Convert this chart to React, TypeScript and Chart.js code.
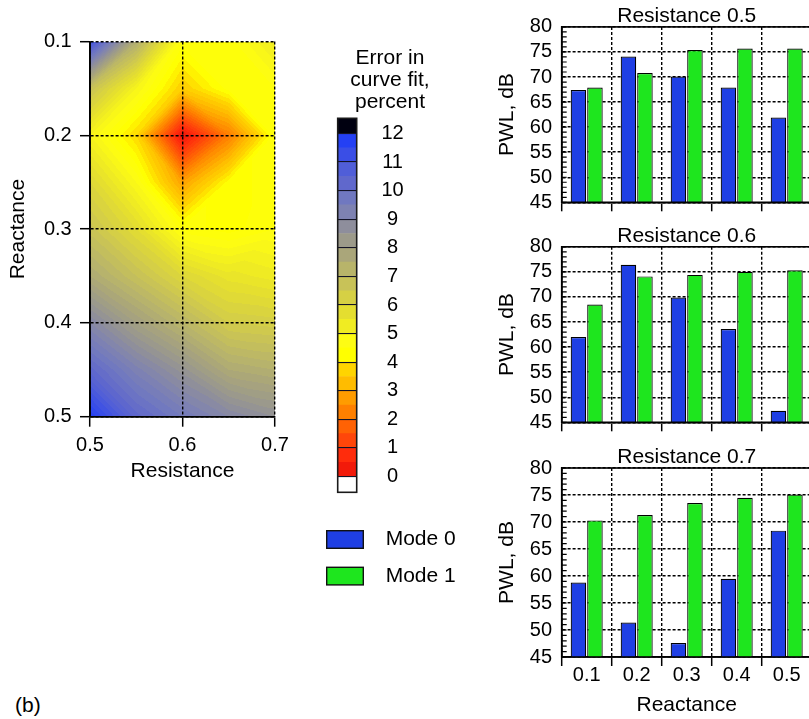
import React, { useEffect, useRef } from "react";
import { Chart, registerables } from "chart.js";

Chart.register(...registerables);

const FONT = "'Liberation Sans', Arial, Helvetica, sans-serif";

// ---------- Contour: error in curve fit, percent ----------
const resistanceNodes = [0.5, 0.55, 0.6, 0.65, 0.7];
const reactanceNodes = [0.1, 0.15, 0.2, 0.25, 0.3, 0.35, 0.4, 0.45, 0.5];
// one list per resistance node, values along reactance nodes
const errAtRes050 = [11.2, 6.8, 5.0, 6.0, 6.7, 7.6, 9.0, 10.3, 11.8];
const errAtRes055 = [7.5, 5.0, 3.8, 4.8, 5.8, 6.8, 8.0, 9.3, 10.3];
const errAtRes060 = [4.5, 3.6, 0.1, 2.8, 4.5, 6.0, 7.2, 8.5, 9.6];
const errAtRes065 = [4.5, 4.5, 2.2, 4.3, 4.3, 5.5, 6.4, 7.6, 9.0];
const errAtRes070 = [5.3, 4.6, 4.5, 4.5, 4.6, 5.3, 6.3, 7.4, 8.6];
const resistanceTicks = [0.5, 0.6, 0.7];
const reactanceTicks = [0.1, 0.2, 0.3, 0.4, 0.5];

// ---------- Colour scale ----------
const colorbarTicks = [0, 1, 2, 3, 4, 5, 6, 7, 8, 9, 10, 11, 12];
const colorbarMin = -0.55;
const colorbarMax = 12.53;
const halfBandColors = [
  "#f21a0a", "#ff2c0c", "#ff460a", "#ff6204", "#ff8000", "#ff9c00",
  "#ffbc00", "#ffd400", "#ffff00", "#fdfc14", "#f0ec22", "#e4de30",
  "#d6d044", "#c8c258", "#b8b46a", "#aaa67a", "#9c9a8a", "#8e8e9c",
  "#7e82b2", "#7078c0", "#6068cc", "#505ed8", "#3a4ee6", "#2440f4",
];
const belowColor = "#ffffff";
const aboveColor = "#000010";
const colorbarTitle = ["Error in", "curve fit,", "percent"];

// ---------- Bars: PWL, dB ----------
const reactanceCategories = ["0.1", "0.2", "0.3", "0.4", "0.5"];
const seriesNames = ["Mode 0", "Mode 1"];
const seriesColors = ["#1f3fe4", "#1ee61e"];
const panelTitles = ["Resistance 0.5", "Resistance 0.6", "Resistance 0.7"];
const mode0Res05 = [67.4, 74.1, 70.1, 67.9, 61.9];
const mode1Res05 = [67.9, 70.8, 75.4, 75.7, 75.7];
const mode0Res06 = [62.0, 76.4, 69.9, 63.6, 47.3];
const mode1Res06 = [68.5, 74.1, 74.4, 75.0, 75.3];
const mode0Res07 = [58.8, 51.4, 47.6, 59.5, 68.4];
const mode1Res07 = [70.3, 71.3, 73.5, 74.5, 75.1];
const pwlTicks = [45, 50, 55, 60, 65, 70, 75, 80];
const figureTag = "(b)";

// ---------- helpers ----------
const errGrid = [errAtRes050, errAtRes055, errAtRes060, errAtRes065, errAtRes070];

function hexToRgb(h: string): number[] {
  const n = parseInt(h.slice(1), 16);
  return [(n >> 16) & 255, (n >> 8) & 255, n & 255];
}
const halfBandRgb = halfBandColors.map(hexToRgb);

function colorForError(v: number): number[] {
  if (v < 0) return hexToRgb(belowColor);
  if (v >= 12) return hexToRgb(aboveColor);
  const q = Math.floor(v * 5) / 5 + 0.1;
  const t = q * 2 - 0.5;
  if (t <= 0) return halfBandRgb[0];
  if (t >= halfBandRgb.length - 1) return halfBandRgb[halfBandRgb.length - 1];
  const k = Math.floor(t);
  const f = t - k;
  const a = halfBandRgb[k];
  const b = halfBandRgb[k + 1];
  return [a[0] + (b[0] - a[0]) * f, a[1] + (b[1] - a[1]) * f, a[2] + (b[2] - a[2]) * f];
}

function findCell(nodes: number[], val: number) {
  let i = 0;
  while (i < nodes.length - 2 && val > nodes[i + 1]) i++;
  let u = (val - nodes[i]) / (nodes[i + 1] - nodes[i]);
  u = Math.max(0, Math.min(1, u));
  return { i, u };
}

function errorAt(r: number, x: number): number {
  const { i, u } = findCell(resistanceNodes, r);
  const { i: j, u: v } = findCell(reactanceNodes, x);
  const a = errGrid[i][j];
  const b = errGrid[i + 1][j];
  const c = errGrid[i][j + 1];
  const d = errGrid[i + 1][j + 1];
  if (Math.abs(a - d) <= Math.abs(b - c)) {
    if (u >= v) return a + u * (b - a) + v * (d - b);
    return a + v * (c - a) + u * (d - c);
  }
  if (u + v <= 1) return a + u * (b - a) + v * (c - a);
  return d + (1 - u) * (c - d) + (1 - v) * (b - d);
}

const contourFillPlugin = {
  id: "contourFill",
  beforeDraw(chart: any) {
    const { ctx, chartArea: a, scales } = chart;
    const xs = scales.x;
    const ys = scales.y;
    const left = Math.round(a.left);
    const top = Math.round(a.top);
    const w = Math.round(a.right) - left;
    const h = Math.round(a.bottom) - top;
    const img = ctx.createImageData(w, h);
    for (let py = 0; py < h; py++) {
      const xv = ys.getValueForPixel(top + py + 0.5);
      for (let px = 0; px < w; px++) {
        const rv = xs.getValueForPixel(left + px + 0.5);
        const c = colorForError(errorAt(rv, xv));
        const o = (py * w + px) * 4;
        img.data[o] = c[0];
        img.data[o + 1] = c[1];
        img.data[o + 2] = c[2];
        img.data[o + 3] = 255;
      }
    }
    ctx.putImageData(img, left, top);
  },
  afterDraw(chart: any) {
    const { ctx, chartArea: a } = chart;
    ctx.save();
    ctx.setLineDash([]);
    ctx.strokeStyle = "#000";
    ctx.lineWidth = 1.6;
    ctx.beginPath();
    ctx.moveTo(a.left, a.top);
    ctx.lineTo(a.left, a.bottom);
    ctx.lineTo(a.right, a.bottom);
    ctx.stroke();
    ctx.restore();
  },
};

function makeContourConfig(): any {
  const pts: { x: number; y: number }[] = [];
  resistanceNodes.forEach((r) => reactanceNodes.forEach((x) => pts.push({ x: r, y: x })));
  const dash = [3, 2];
  return {
    type: "scatter",
    data: { datasets: [{ data: pts, pointRadius: 0, showLine: false }] },
    plugins: [contourFillPlugin],
    options: {
      responsive: false,
      animation: false,
      devicePixelRatio: 1,
      layout: { padding: { left: 0, right: 25, top: 41.5, bottom: 15.9 } },
      plugins: { legend: { display: false }, tooltip: { enabled: false } },
      scales: {
        x: {
          type: "linear",
          min: 0.5,
          max: 0.7,
          afterBuildTicks: (s: any) => { s.ticks = resistanceTicks.map((value) => ({ value })); },
          afterFit: (s: any) => { s.height = 67.4; },
          grid: { color: "#000", lineWidth: 1.4, borderDash: dash, tickBorderDash: [], tickLength: 10, tickWidth: 1.5, tickColor: "#000" },
          border: { color: "#000", width: 1.6, dash },
          ticks: { font: { family: FONT, size: 20, lineHeight: 1 }, color: "#000", padding: 8.3, callback: (v: any) => Number(v).toFixed(1) },
          title: { display: true, text: "Resistance", font: { family: FONT, size: 21 }, color: "#000", padding: { top: 0, bottom: 0 } },
        },
        y: {
          type: "linear",
          reverse: true,
          min: 0.1,
          max: 0.5,
          afterBuildTicks: (s: any) => { s.ticks = reactanceTicks.map((value) => ({ value })); },
          afterFit: (s: any) => { s.width = 90; },
          grid: { color: "#000", lineWidth: 1.4, borderDash: dash, tickBorderDash: [], tickLength: 10, tickWidth: 1.5, tickColor: "#000" },
          border: { color: "#000", width: 1.6, dash },
          ticks: { font: { family: FONT, size: 20 }, color: "#000", padding: 8.3, callback: (v: any) => Number(v).toFixed(1) },
          title: { display: true, text: "Reactance", font: { family: FONT, size: 21 }, color: "#000", padding: { top: 5.4, bottom: 0 } },
        },
      },
    },
  };
}

function makeColorbarConfig(): any {
  const datasets: any[] = [
    { data: [[colorbarMin, colorbarTicks[0]]], backgroundColor: belowColor },
  ];
  halfBandColors.forEach((c, k) => {
    datasets.push({ data: [[k / 2, (k + 1) / 2]], backgroundColor: c });
  });
  datasets.push({ data: [[colorbarTicks[colorbarTicks.length - 1], colorbarMax]], backgroundColor: aboveColor });
  datasets.forEach((d) => {
    d.borderWidth = 0;
    d.grouped = false;
    d.categoryPercentage = 1;
    d.barPercentage = 1;
  });
  const decor = {
    id: "colorbarDecor",
    afterDraw(chart: any) {
      const { ctx, chartArea: a } = chart;
      ctx.save();
      ctx.setLineDash([]);
      ctx.strokeStyle = "#1a1a1a";
      ctx.lineWidth = 1.6;
      ctx.strokeRect(a.left, a.top, a.right - a.left, a.bottom - a.top);
      ctx.fillStyle = "#000";
      ctx.font = `21px ${FONT}`;
      ctx.textAlign = "center";
      ctx.textBaseline = "alphabetic";
      const base = [63.5, 85.5, 107.5];
      colorbarTitle.forEach((t, i) => ctx.fillText(t, 90, base[i]));
      // legend
      const boxY = [530.7, 567.3];
      seriesNames.forEach((name, i) => {
        ctx.fillStyle = seriesColors[i];
        ctx.fillRect(26.7, boxY[i], 36.6, 17.6);
        ctx.strokeStyle = "#111";
        ctx.lineWidth = 1.4;
        ctx.strokeRect(26.7, boxY[i], 36.6, 17.6);
        ctx.fillStyle = "#000";
        ctx.textAlign = "left";
        ctx.textBaseline = "middle";
        ctx.fillText(name, 85.7, boxY[i] + 8.8);
      });
      ctx.restore();
    },
  };
  return {
    type: "bar",
    data: { labels: [""], datasets },
    plugins: [decor],
    options: {
      responsive: false,
      animation: false,
      devicePixelRatio: 1,
      layout: { padding: { left: 37.7, right: 0, top: 118.3, bottom: 107.7 } },
      plugins: { legend: { display: false }, tooltip: { enabled: false } },
      scales: {
        x: { display: false },
        y: {
          position: "right",
          min: colorbarMin,
          max: colorbarMax,
          afterBuildTicks: (s: any) => { s.ticks = colorbarTicks.map((value) => ({ value })); },
          afterFit: (s: any) => { s.width = 123.3; },
          grid: { color: "#141428", lineWidth: 1.1, drawTicks: false, z: 1 },
          border: { display: false },
          ticks: { font: { family: FONT, size: 20 }, color: "#000", padding: 24.7, crossAlign: "center" },
        },
      },
    },
  };
}

function makeBarConfig(p: { title: string; mode0: number[]; mode1: number[]; showX: boolean; padTop: number; xHeight: number }): any {
  const dash = [3, 2];
  const decor = {
    id: "panelDecor",
    afterDraw(chart: any) {
      const { ctx, chartArea: a } = chart;
      const ys = chart.scales.y;
      ctx.save();
      ctx.setLineDash([]);
      ctx.strokeStyle = "#000";
      ctx.lineWidth = 1.6;
      ctx.strokeRect(a.left, a.top, a.right - a.left, a.bottom - a.top);
      ctx.lineWidth = 1.2;
      ctx.beginPath();
      for (let v = ys.min; v <= ys.max; v += 1) {
        const py = ys.getPixelForValue(v);
        ctx.moveTo(a.left, py);
        ctx.lineTo(a.left + 5, py);
      }
      ctx.stroke();
      ctx.fillStyle = "#000";
      ctx.font = `21px ${FONT}`;
      ctx.textAlign = "center";
      ctx.textBaseline = "alphabetic";
      ctx.fillText(p.title, (a.left + a.right) / 2, a.top - 5);
      ctx.restore();
    },
  };
  return {
    type: "bar",
    data: {
      labels: reactanceCategories,
      datasets: [
        { label: seriesNames[0], data: p.mode0, backgroundColor: seriesColors[0] },
        { label: seriesNames[1], data: p.mode1, backgroundColor: seriesColors[1] },
      ].map((d) => ({ ...d, borderColor: "#000", borderWidth: 1.2, borderSkipped: false, categoryPercentage: 0.66, barPercentage: 0.94 })),
    },
    plugins: [decor],
    options: {
      responsive: false,
      animation: false,
      devicePixelRatio: 1,
      layout: { padding: { left: 12, right: 8.3, top: p.padTop, bottom: 0 } },
      plugins: { legend: { display: false }, tooltip: { enabled: false } },
      scales: {
        x: {
          offset: true,
          afterFit: (s: any) => { s.height = p.xHeight; },
          grid: { offset: true, color: "#000", lineWidth: 1.4, borderDash: dash, tickBorderDash: [], tickLength: 9, tickWidth: 1.5, tickColor: "#000" },
          border: { color: "#000", width: 1.6, dash },
          ticks: { display: p.showX, font: { family: FONT, size: 20, lineHeight: 0.9 }, color: "#000", padding: 0, maxRotation: 0, autoSkip: false },
          title: { display: p.showX, text: "Reactance", font: { family: FONT, size: 21 }, color: "#000", padding: { top: 0, bottom: 1 } },
        },
        y: {
          min: 45,
          max: 80,
          afterBuildTicks: (s: any) => { s.ticks = pwlTicks.map((value) => ({ value })); },
          afterFit: (s: any) => { s.width = 69.7; },
          grid: { color: "#000", lineWidth: 1.4, borderDash: dash, drawTicks: false },
          border: { color: "#000", width: 1.6, dash },
          ticks: { font: { family: FONT, size: 20 }, color: "#000", padding: 9.7 },
          title: { display: true, text: "PWL, dB", font: { family: FONT, size: 21 }, color: "#000", padding: { top: 2.4, bottom: 0 } },
        },
      },
    },
  };
}

function ChartCanvas({ left, top, width, height, make }: { left: number; top: number; width: number; height: number; make: () => any }) {
  const ref = useRef<HTMLCanvasElement>(null);
  useEffect(() => {
    const chart = new Chart(ref.current as HTMLCanvasElement, make());
    return () => chart.destroy();
  }, []);
  return (
    <canvas
      ref={ref}
      width={width}
      height={height}
      style={{ position: "absolute", left, top, width, height }}
    />
  );
}

export default function App() {
  return (
    <div style={{ position: "fixed", left: 0, top: 0, width: 809, height: 719, overflow: "hidden", background: "#fff" }}>
      <ChartCanvas left={0} top={0} width={300} height={500} make={makeContourConfig} />
      <ChartCanvas left={300} top={0} width={180} height={600} make={makeColorbarConfig} />
      <ChartCanvas left={480} top={0} width={340} height={224}
        make={() => makeBarConfig({ title: panelTitles[0], mode0: mode0Res05, mode1: mode1Res05, showX: false, padTop: 26.9, xHeight: 12.3 })} />
      <ChartCanvas left={480} top={222} width={340} height={222}
        make={() => makeBarConfig({ title: panelTitles[1], mode0: mode0Res06, mode1: mode1Res06, showX: false, padTop: 24.8, xHeight: 11.3 })} />
      <ChartCanvas left={480} top={444} width={340} height={275}
        make={() => makeBarConfig({ title: panelTitles[2], mode0: mode0Res07, mode1: mode1Res07, showX: true, padTop: 24, xHeight: 62 })} />
      <div style={{ position: "absolute", left: 15, top: 692.75, fontFamily: FONT, fontSize: 21, lineHeight: "24px", color: "#000" }}>{figureTag}</div>
    </div>
  );
}
